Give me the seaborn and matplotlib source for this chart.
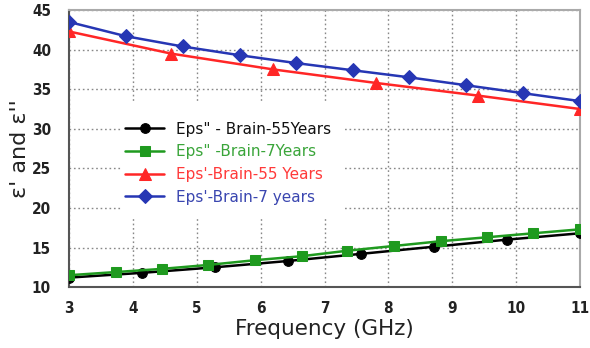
import numpy as np
import pandas as pd
import matplotlib
matplotlib.use("Agg")
import matplotlib.pyplot as plt
from matplotlib.patches import Rectangle
import seaborn as sns

# Data
freq_black = [3.0, 4.14, 5.28, 6.43, 7.57, 8.71, 9.86, 11.0]
eps2_55 = [11.2, 11.8, 12.5, 13.3, 14.2, 15.1, 16.0, 16.8]

freq_green = [3.0, 3.73, 4.45, 5.18, 5.91, 6.64, 7.36, 8.09, 8.82, 9.55, 10.27, 11.0]
eps2_7 = [11.5, 11.9, 12.3, 12.8, 13.4, 13.9, 14.6, 15.2, 15.8, 16.3, 16.8, 17.3]

freq_red = [3.0, 4.6, 6.2, 7.8, 9.4, 11.0]
eps1_55 = [42.3, 39.5, 37.5, 35.8, 34.2, 32.5]

freq_blue = [3.0, 3.89, 4.78, 5.67, 6.56, 7.44, 8.33, 9.22, 10.11, 11.0]
eps1_7 = [43.5, 41.7, 40.4, 39.3, 38.3, 37.4, 36.5, 35.5, 34.5, 33.5]

labels = ['Eps" - Brain-55Years', 'Eps" -Brain-7Years', "Eps'-Brain-55 Years", "Eps'-Brain-7 years"]
colors = ["#000000", "#1f9a1f", "#ff2626", "#2636b4"]
text_colors = ["#111111", "#3aa53a", "#ff3a3a", "#3a46b0"]
markers = ["o", "s", "^", "D"]
msizes = [7, 7.5, 8.5, 7]

xticks = list(range(3, 12))
yticks = list(range(10, 50, 5))

series = [(freq_black, eps2_55), (freq_green, eps2_7), (freq_red, eps1_55), (freq_blue, eps1_7)]
frames = []
for lab, (fx, fy) in zip(labels, series):
    frames.append(pd.DataFrame({"freq": fx, "eps": fy, "series": lab}))
df = pd.concat(frames, ignore_index=True)

sns.set_style("white")
plt.rcParams["font.family"] = ["DejaVu Sans"]

fig = plt.figure(figsize=(5.9, 3.48), dpi=100)
ax = fig.add_axes([0.117, 0.175, 0.866, 0.796])

for lab, c, m, ms in zip(labels, colors, markers, msizes):
    sub = df[df["series"] == lab]
    sns.lineplot(data=sub, x="freq", y="eps", ax=ax, color=c, marker=m,
                 markersize=ms, markeredgecolor=c, linewidth=1.8, label=lab,
                 zorder=3)

ax.set_xlim(3, 11)
ax.set_ylim(10, 45)
ax.set_xticks(xticks)
ax.set_yticks(yticks)
ax.grid(True, linestyle=(0, (1.2, 2.0)), color="#888888", linewidth=1.0)
ax.tick_params(axis="both", labelsize=11, length=4, width=1.2, direction="out",
               colors="#333333", labelcolor="#222222")
ax.tick_params(axis="y", pad=9)
ax.tick_params(axis="x", pad=6)
for t in ax.get_xticklabels() + ax.get_yticklabels():
    t.set_fontweight("bold")
    t.set_fontstretch("condensed")
ax.set_xlabel("Frequency (GHz)", fontsize=15.5, color="#222222", labelpad=2)
ax.set_ylabel("ε' and ε''", fontsize=16, color="#222222", labelpad=1.5)

ax.spines["left"].set_color("#555555")
ax.spines["bottom"].set_color("#555555")
ax.spines["left"].set_linewidth(1.5)
ax.spines["bottom"].set_linewidth(1.5)
ax.spines["right"].set_color("#aaaaaa")
ax.spines["top"].set_color("#aaaaaa")
ax.spines["right"].set_linewidth(1.5)
ax.spines["top"].set_linewidth(1.5)

# white box behind legend (hides grid like the reference)
ax.add_patch(Rectangle((0.104, 0.25), 0.432, 0.42, transform=ax.transAxes,
                       facecolor="white", edgecolor="none", zorder=2.5))

leg = ax.legend(loc="upper left", bbox_to_anchor=(0.109, 0.597), frameon=False,
                fontsize=11, handlelength=2.6, labelspacing=0.5,
                borderpad=0.0, borderaxespad=0.0, handletextpad=0.75)
leg.set_zorder(5)
for txt, c in zip(leg.get_texts(), text_colors):
    txt.set_color(c)

fig.savefig("out.png", dpi=100)
